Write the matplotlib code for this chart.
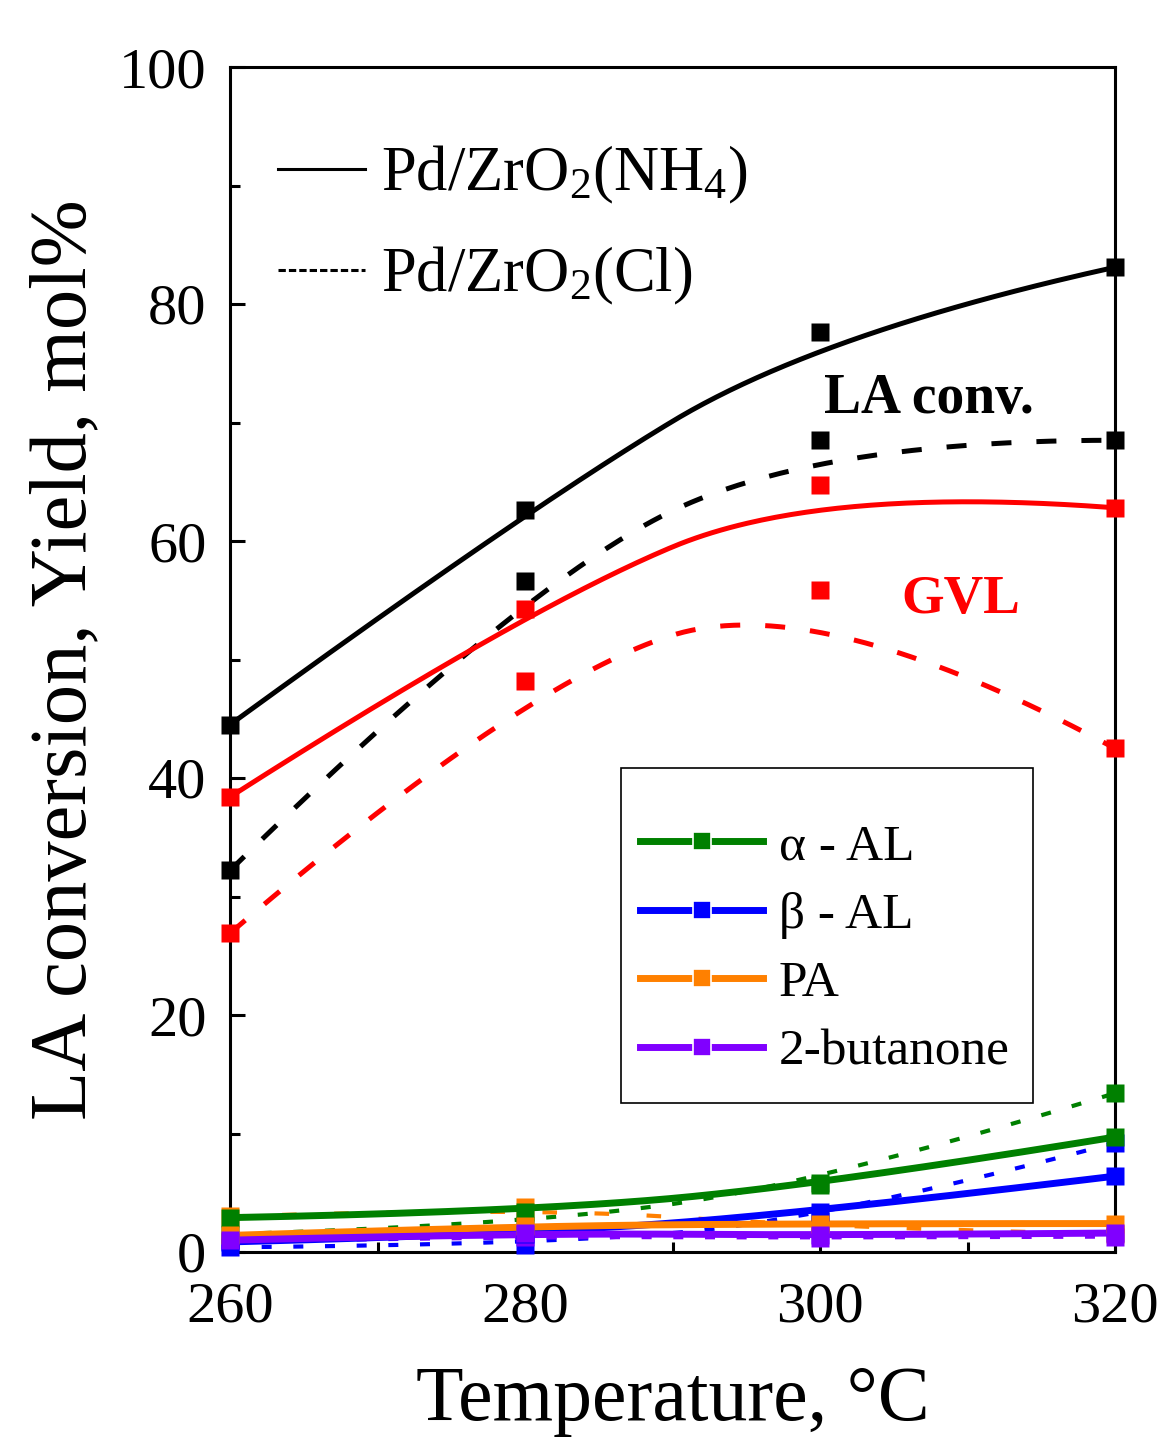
import numpy as np
import matplotlib.pyplot as plt
from matplotlib.lines import Line2D
from matplotlib.patches import Rectangle
from matplotlib.ticker import MultipleLocator

plt.rcParams['font.family'] = ['Liberation Serif', 'DejaVu Serif']
plt.rcParams['mathtext.default'] = 'regular'

temps = [260, 280, 300, 320]
# LA conversion and GVL yield, mol%
la_nh4 = [44.5, 62.6, 77.6, 83.1]
la_cl = [32.2, 56.6, 68.5, 68.5]
gvl_nh4 = [38.4, 54.3, 64.7, 62.8]
gvl_cl = [26.9, 48.2, 55.9, 42.5]
# by-products
aal_nh4 = [2.9, 3.4, 5.65, 9.7]
aal_cl = [1.5, 2.3, 5.8, 13.4]
bal_nh4 = [0.85, 1.5, 3.4, 6.4]
bal_cl = [0.4, 0.6, 2.6, 9.2]
pa_nh4 = [1.4, 2.2, 2.4, 2.4]
pa_cl = [3.0, 3.8, 2.1, 1.5]
but_nh4 = [1.0, 1.6, 1.4, 1.6]
but_cl = [0.9, 1.3, 1.2, 1.3]

green = '#008000'
blue = '#0000ff'
orange = '#ff8000'
purple = '#8000ff'


def bspline(x, y, n=80):
    # quadratic B-spline with the data points as control points
    P = np.column_stack([x, y]).astype(float)
    k = len(P)
    s = np.linspace(0, 1, n)[:, None]
    segs = []
    for i in range(1, k - 1):
        a = P[0] if i == 1 else (P[i - 1] + P[i]) / 2
        c = P[-1] if i == k - 2 else (P[i] + P[i + 1]) / 2
        segs.append((1 - s) ** 2 * a + 2 * (1 - s) * s * P[i] + s ** 2 * c)
    pts = np.vstack(segs)
    return pts[:, 0], pts[:, 1]


fig = plt.figure(figsize=(11.61, 14.39), dpi=100)
ax = fig.add_axes([230 / 1161, 187 / 1439, 885 / 1161, 1185 / 1439])

small = [(aal_nh4, aal_cl, green), (bal_nh4, bal_cl, blue),
         (pa_nh4, pa_cl, orange), (but_nh4, but_cl, purple)]

# dashed (Cl) curves of by-products
for nh4, cl, col in small:
    bx, by = bspline(temps, cl)
    if col == orange:
        ax.plot(bx, by, color=col, lw=3, dashes=(3.5, 9), zorder=2)
    else:
        ax.plot(bx, by, color=col, lw=3, dashes=(2.4, 5.2), zorder=2)
    ax.plot(temps, cl, 's', color=col, ms=12.5, mec='none', zorder=3, clip_on=False)

# solid (NH4) curves of by-products
for nh4, cl, col in small:
    bx, by = bspline(temps, nh4)
    ax.plot(bx, by, color=col, lw=5, zorder=4)
    ax.plot(temps, nh4, 's', color=col, ms=12.5, mec='none', zorder=5, clip_on=False)

# LA conversion and GVL
for vals, col, solid in [(la_nh4, 'black', True), (la_cl, 'black', False),
                         (gvl_nh4, 'red', True), (gvl_cl, 'red', False)]:
    bx, by = bspline(temps, vals)
    if solid:
        ax.plot(bx, by, color=col, lw=3.6, zorder=6)
    else:
        ax.plot(bx, by, color=col, lw=3.6, dashes=(4, 5), zorder=6)
    ax.plot(temps, vals, 's', color=col, ms=12.5, mec='none', zorder=7, clip_on=False)

ax.text(300.3, 72.0, 'LA conv.', fontsize=40, fontweight='bold', color='black',
        va='center', ha='left')
ax.text(305.5, 55.0, 'GVL', fontsize=39.5, fontweight='bold', color='red',
        va='center', ha='left')

ax.set_xlim(260, 320)
ax.set_ylim(0, 100)
ax.xaxis.set_major_locator(MultipleLocator(20))
ax.xaxis.set_minor_locator(MultipleLocator(10))
ax.yaxis.set_major_locator(MultipleLocator(20))
ax.yaxis.set_minor_locator(MultipleLocator(10))
ax.tick_params(which='both', direction='in', top=False, right=False, width=2.2)
ax.tick_params(which='major', length=11, labelsize=42)
ax.tick_params(axis='x', which='major', pad=21)
ax.tick_params(axis='y', which='major', pad=17)
ax.tick_params(which='minor', length=7)
for sp in ax.spines.values():
    sp.set_linewidth(2.2)

ax.set_xlabel('Temperature, °C', fontsize=56, labelpad=23)
ax.set_ylabel('LA conversion, Yield, mol%', fontsize=58, labelpad=12)

# catalyst legend
h1 = [Line2D([], [], color='black', lw=2.2),
      Line2D([], [], color='black', lw=2.2, dashes=(2.4, 1.0))]
leg1 = ax.legend(h1, ['Pd/ZrO$_2$(NH$_4$)', 'Pd/ZrO$_2$(Cl)'], loc='upper left',
                 bbox_to_anchor=(0.054, 0.935), frameon=False, fontsize=45,
                 handlelength=1.4, handletextpad=0.25, labelspacing=0.62,
                 borderpad=0, borderaxespad=0)
ax.add_artist(leg1)

# by-product legend, frame drawn separately
ax.add_patch(Rectangle((0.4418, 0.1257), 0.4655, 0.2827, transform=ax.transAxes,
                       fill=True, facecolor='white', edgecolor='black', lw=1.2,
                       zorder=8))
h2 = [Line2D([], [], color=c, lw=5, marker='s', ms=13, mec='white', mew=1.2)
      for c in [green, blue, orange, purple]]
leg2 = ax.legend(h2, ['α - AL', 'β - AL', 'PA', '2-butanone'], loc='upper left',
                 bbox_to_anchor=(0.4633, 0.362), fontsize=37, frameon=False,
                 handlelength=2.4, handletextpad=0.3, labelspacing=0.42,
                 borderpad=0, borderaxespad=0)
leg2.set_zorder(9)

fig.savefig('out.png', dpi=100)
